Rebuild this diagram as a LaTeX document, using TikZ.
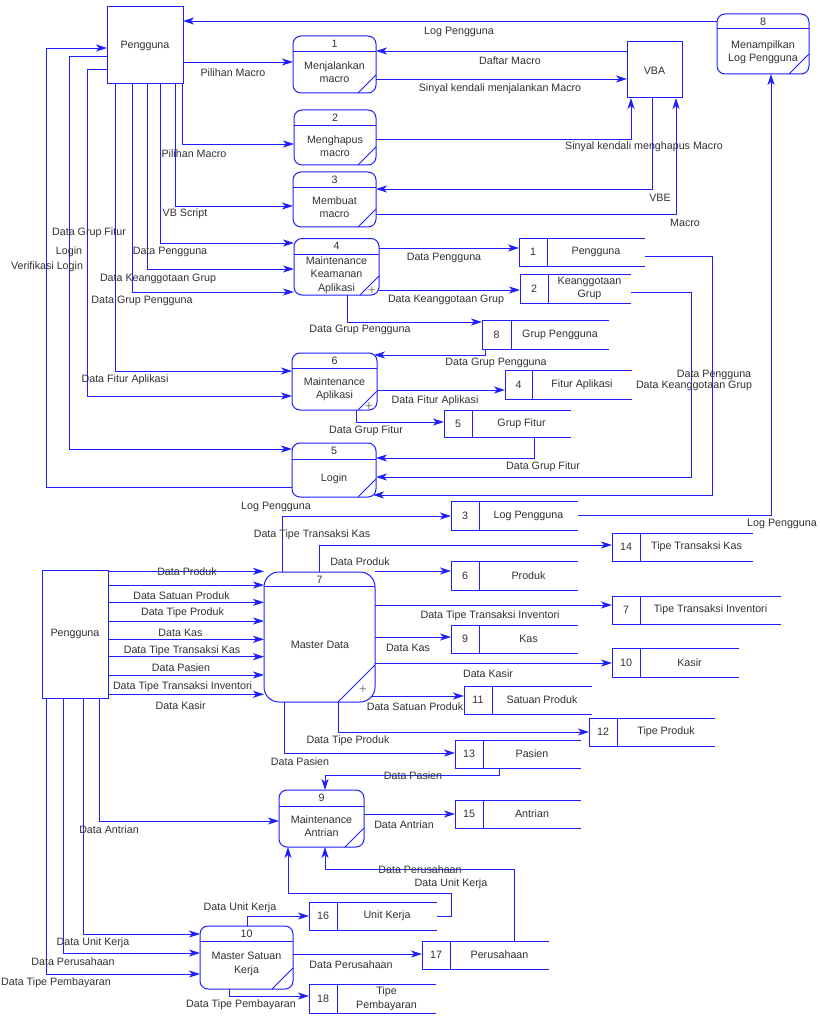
\documentclass[tikz,border=0pt]{standalone}
\usepackage{fontspec}
\setmainfont{Liberation Sans}
\usetikzlibrary{arrows.meta,fit,calc}
\definecolor{dfdblue}{RGB}{30,30,255}
\definecolor{dfdtext}{RGB}{50,50,50}
\tikzset{
  shapeline/.style={draw=dfdblue, line width=1pt},
  procbox/.style={draw=dfdblue, line width=1pt, rounded corners=8pt, inner sep=0pt, outer sep=0pt, fill=white},
  entbox/.style={draw=dfdblue, line width=1pt, inner sep=0pt, outer sep=0pt, fill=white},
  storebox/.style={inner sep=0pt, outer sep=0pt},
  txt/.style={text=dfdtext, font=\fontsize{10.7}{13.5}\selectfont, inner sep=0pt, align=center},
  plusmark/.style={text=gray, font=\fontsize{13}{13}\selectfont, inner sep=0pt},
  flow/.style={draw=dfdblue, line width=0.9pt, -{Stealth[length=11pt,width=7pt,inset=3pt]}},
}
\newcommand{\mkproc}[8]{%
  \node[procbox, fit={(#2,#3) (#4,#5)}] (#1) {};
  \draw[shapeline] (#2,#6) -- (#4,#6);
  \draw[shapeline] ({#4-#8},#5) -- (#4,{#5-#8});
  \node[txt] (#1num) at ({(#2+#4)/2},{(#3+#6)/2}) {#7};
}
\newcommand{\mkstore}[8]{%
  \node[storebox, fit={(#2,#3) (#4,#5)}] (#1) {};
  \draw[shapeline] (#4,#3) -- (#2,#3) -- (#2,#5) -- (#4,#5);
  \draw[shapeline] (#6,#3) -- (#6,#5);
  \node[txt] (#1num) at ({(#2+#6)/2},{(#3+#5)/2}) {#7};
  \node[txt] (#1txt) at ({(#6+#4)/2},{(#3+#5)/2}) {#8};
}
\begin{document}
\begin{tikzpicture}[x=1pt,y=-1pt]
\useasboundingbox (0,0) rectangle (819,1016);
\fill[white] (0,0) rectangle (819,1016);

% ---------- external entities ----------
\node[entbox, fit={(107,7) (183,84)}] (ent1) {};
\node[txt] (ent1txt) at (145,46) {Pengguna};
\node[entbox, fit={(627,42) (682,98)}] (vba) {};
\node[txt] (vbatxt) at (654.5,71) {VBA};
\node[entbox, fit={(42,570) (108,698)}] (ent2) {};
\node[txt] (ent2txt) at (75,634) {Pengguna};

% ---------- processes ----------
\mkproc{p1}{293}{36}{376}{93}{52}{1}{18}
\node[txt] (p1txt) at (334.5,72) {Menjalankan\\macro};
\mkproc{p2}{294}{110}{376}{165}{126}{2}{18}
\node[txt] (p2txt) at (335,146) {Menghapus\\macro};
\mkproc{p3}{293}{172}{376}{227}{188}{3}{18}
\node[txt] (p3txt) at (334.5,207) {Membuat\\macro};
\mkproc{p4}{294}{238.5}{379}{295}{254}{4}{19}
\node[txt] (p4txt) at (336.5,275) {Maintenance\\Keamanan\\Aplikasi};
\node[plusmark] (p4plus) at (372,291) {+};
\mkproc{p6}{292}{353}{377}{410}{368}{6}{19}
\node[txt] (p6txt) at (334.5,389) {Maintenance\\Aplikasi};
\node[plusmark] (p6plus) at (369,407) {+};
\mkproc{p5}{292}{443}{376}{497}{459}{5}{18}
\node[txt] (p5txt) at (334,479) {Login};
\mkproc{p8}{717}{14}{809}{74}{29}{8}{20}
\node[txt] (p8txt) at (763,52) {Menampilkan\\Log Pengguna};

\node[procbox, rounded corners=15pt, fit={(264,572) (375,702)}] (p7) {};
\draw[shapeline] (264,586.5) -- (375,586.5);
\draw[shapeline] (338,702) -- (375,665);
\node[txt] (p7num) at (319.5,579.5) {7};
\node[txt] (p7txt) at (320,645) {Master Data};
\node[plusmark] (p7plus) at (363,690) {+};

\mkproc{p9}{279}{790}{364}{847}{806}{9}{19}
\node[txt] (p9txt) at (321.5,826) {Maintenance\\Antrian};
\mkproc{p10}{200}{926}{293}{989}{941}{10}{21}
\node[txt] (p10txt) at (246.5,964) {Master Satuan\\Kerja};

% ---------- data stores ----------
\mkstore{ds1}{519}{238}{645}{266}{547}{1}{Pengguna}
\mkstore{ds2}{520}{274}{631}{303}{548}{2}{Keanggotaan\\Grup}
\mkstore{ds8}{482}{320}{609}{349}{511}{8}{Grup Pengguna}
\mkstore{ds4}{505}{370}{632}{399}{532}{4}{Fitur Aplikasi}
\mkstore{ds5}{444}{410}{571}{437}{472}{5}{Grup Fitur}
\mkstore{ds3}{451}{501}{578}{530}{479}{3}{Log Pengguna}
\mkstore{ds14}{612}{533}{753}{561}{640}{14}{Tipe Transaksi Kas}
\mkstore{ds6}{451}{561}{578}{590}{479}{6}{Produk}
\mkstore{ds7}{612}{596}{781}{624}{640}{7}{Tipe Transaksi Inventori}
\mkstore{ds9}{451}{625}{578}{653}{479}{9}{Kas}
\mkstore{ds10}{612}{648}{739}{677}{640}{10}{Kasir}
\mkstore{ds11}{464}{686}{592}{714}{492}{11}{Satuan Produk}
\mkstore{ds12}{589}{718}{715}{746}{617}{12}{Tipe Produk}
\mkstore{ds13}{455}{740}{581}{768}{483}{13}{Pasien}
\mkstore{ds15}{455}{800}{581}{828}{483}{15}{Antrian}
\mkstore{ds16}{309}{902}{437}{930}{337}{16}{Unit Kerja}
\mkstore{ds17}{422}{941}{549}{969}{450}{17}{Perusahaan}
\mkstore{ds18}{309}{984}{436}{1013}{337}{18}{Tipe\\Pembayaran}

% ---------- flows, upper part ----------
\draw[flow] (p8.west |- 0,21) -- (ent1.east |- 0,21);
\draw[flow] (ent1.east |- 0,62) -- (p1.west |- 0,62);
\draw[flow] (vba.west |- 0,51) -- (p1.east |- 0,51);
\draw[flow] (p1.east |- 0,79) -- (vba.west |- 0,79);
\draw[flow] (ent1.south -| 182,0) |- (p2.west |- 0,144);
\draw[flow] (p2.east |- 0,139) -| (vba.south -| 631,0);
\draw[flow] (ent1.south -| 175,0) |- (p3.west |- 0,206);
\draw[flow] (vba.south -| 652,0) |- (p3.east |- 0,189);
\draw[flow] (p3.east |- 0,214) -| (vba.south -| 676,0);
\draw[flow] (ent1.south -| 160,0) |- (p4.west |- 0,243);
\draw[flow] (ent1.south -| 147,0) |- (p4.west |- 0,269);
\draw[flow] (ent1.south -| 132,0) |- (p4.west |- 0,292);
\draw[flow] (ent1.south -| 115,0) |- (p6.west |- 0,371);
\draw[flow] (ent1.west |- 0,69) -- (87,69) |- (p6.west |- 0,396);
\draw[flow] (ent1.west |- 0,56) -- (69,56) |- (p5.west |- 0,449);
\draw[flow] (p5.west |- 0,487) -- (46,487) |- (ent1.west |- 0,48);
\draw[flow] (p4.east |- 0,248) -- (ds1.west |- 0,248);
\draw[flow] (p4.east |- 0,290) -- (ds2.west |- 0,290);
\draw[flow] (p4.south -| 347,0) |- (ds8.west |- 0,322);
\draw[flow] (ds8.south -| 485,0) |- ([xshift=-3pt,yshift=-2pt]p6.north east);
\draw[flow] (p6.east |- 0,390) -- (ds4.west |- 0,390);
\draw[flow] (p6.south -| 356,0) |- (ds5.west |- 0,422);
\draw[flow] (ds5.south -| 534,0) |- (p5.east |- 0,458);
\draw[flow] (ds2.east |- 0,292) -- (691,292) |- (p5.east |- 0,477);
\draw[flow] (ds1.east |- 0,256) -- (712,256) |- ([xshift=-3pt]p5.east |- 0,495);
\draw[flow] (p7.north -| 282,0) |- (ds3.west |- 0,516);
\draw[flow] (ds3.east |- 0,515) -| (p8.south -| 771,0);

% ---------- flows, lower part ----------
\draw[flow] (p7.north -| 319,0) |- (ds14.west |- 0,545);
\draw[flow] ([yshift=1pt]p7.north east) -- (ds6.west |- 0,571);
\draw[flow] (p7.east |- 0,605) -- (ds7.west |- 0,605);
\draw[flow] (p7.east |- 0,637) -- (ds9.west |- 0,637);
\draw[flow] (p7.east |- 0,663) -- (ds10.west |- 0,663);
\draw[flow] ([xshift=-3pt]p7.east |- 0,696) -- (ds11.west |- 0,696);
\draw[flow] (p7.south -| 338,0) |- (ds12.west |- 0,732);
\draw[flow] (p7.south -| 284,0) |- (ds13.west |- 0,753);
\draw[flow] (ds13.south -| 499,0) -- (499,775) -| (p9.north -| 325,0);
\draw[flow] (p9.east |- 0,814) -- (ds15.west |- 0,814);
\foreach \yy in {571.3,585,602.3,621,639.3,656.7,675,694.3}
  \draw[flow] (ent2.east |- 0,\yy) -- (p7.west |- 0,\yy);
\draw[flow] (ent2.south -| 99,0) |- (p9.west |- 0,821);
\draw[flow] (ent2.south -| 83,0) |- (p10.west |- 0,934);
\draw[flow] (ent2.south -| 63,0) |- (p10.west |- 0,953);
\draw[flow] (ent2.south -| 46,0) |- (p10.west |- 0,974);
\draw[flow] (p10.north -| 247,0) |- (ds16.west |- 0,916);
\draw[flow] (p10.east |- 0,954) -- (ds17.west |- 0,954);
\draw[flow] (p10.south -| 229,0) |- (ds18.west |- 0,996);
\draw[flow] (ds16.east |- 0,916) -- (451,916) -- (451,893) -| (p9.south -| 288,0);
\draw[flow] (ds17.north -| 514,0) -- (514,869) -| (p9.south -| 325,0);

% ---------- labels ----------
\node[txt] (l01) at (459,32) {Log Pengguna};
\node[txt] (l02) at (233,73) {Pilihan Macro};
\node[txt] (l03) at (510,61) {Daftar Macro};
\node[txt] (l04) at (500,89) {Sinyal kendali menjalankan Macro};
\node[txt] (l05) at (194,154) {Pilihan Macro};
\node[txt] (l06) at (644,147) {Sinyal kendali menghapus Macro};
\node[txt] (l07) at (185,214) {VB Script};
\node[txt] (l08) at (660,198) {VBE};
\node[txt] (l09) at (685,223) {Macro};
\node[txt] (l10) at (170,252) {Data Pengguna};
\node[txt] (l11) at (158,279) {Data Keanggotaan Grup};
\node[txt] (l12) at (142,301) {Data Grup Pengguna};
\node[txt] (l13) at (89,233) {Data Grup Fitur};
\node[txt] (l14) at (125,380) {Data Fitur Aplikasi};
\node[txt] (l15) at (69,252) {Login};
\node[txt] (l16) at (47,267) {Verifikasi Login};
\node[txt] (l17) at (444,258) {Data Pengguna};
\node[txt] (l18) at (446,300) {Data Keanggotaan Grup};
\node[txt] (l19) at (360,330) {Data Grup Pengguna};
\node[txt] (l20) at (496,363) {Data Grup Pengguna};
\node[txt] (l21) at (435,401) {Data Fitur Aplikasi};
\node[txt] (l22) at (366,431) {Data Grup Fitur};
\node[txt] (l23) at (543,467) {Data Grup Fitur};
\node[txt] (l24) at (694,386) {Data Keanggotaan Grup};
\node[txt] (l25) at (714,375) {Data Pengguna};
\node[txt] (l26) at (276,507) {Log Pengguna};
\node[txt] (l27) at (782,524) {Log Pengguna};
\node[txt] (l28) at (312,535) {Data Tipe Transaksi Kas};
\node[txt] (l29) at (360,562) {Data Produk};
\node[txt] (l30) at (490,616) {Data Tipe Transaksi Inventori};
\node[txt] (l31) at (408,648) {Data Kas};
\node[txt] (l32) at (488,674) {Data Kasir};
\node[txt] (l33) at (415,707) {Data Satuan Produk};
\node[txt] (l34) at (348,741) {Data Tipe Produk};
\node[txt] (l35) at (300,762) {Data Pasien};
\node[txt] (l36) at (413,776) {Data Pasien};
\node[txt] (l37) at (404,825) {Data Antrian};
\node[txt] (l38) at (187,572) {Data Produk};
\node[txt] (l39) at (181.5,596) {Data Satuan Produk};
\node[txt] (l40) at (182.5,613) {Data Tipe Produk};
\node[txt] (l41) at (180.5,633) {Data Kas};
\node[txt] (l42) at (182,651) {Data Tipe Transaksi Kas};
\node[txt] (l43) at (181,668) {Data Pasien};
\node[txt] (l44) at (182.5,687) {Data Tipe Transaksi Inventori};
\node[txt] (l45) at (180.7,706) {Data Kasir};
\node[txt] (l46) at (109,830) {Data Antrian};
\node[txt] (l47) at (93,943) {Data Unit Kerja};
\node[txt] (l48) at (73,962) {Data Perusahaan};
\node[txt] (l49) at (56,983) {Data Tipe Pembayaran};
\node[txt] (l50) at (240,908) {Data Unit Kerja};
\node[txt] (l51) at (351,965) {Data Perusahaan};
\node[txt] (l52) at (241,1005) {Data Tipe Pembayaran};
\node[txt] (l53) at (451,884) {Data Unit Kerja};
\node[txt] (l54) at (420,870) {Data Perusahaan};
\end{tikzpicture}
\end{document}
